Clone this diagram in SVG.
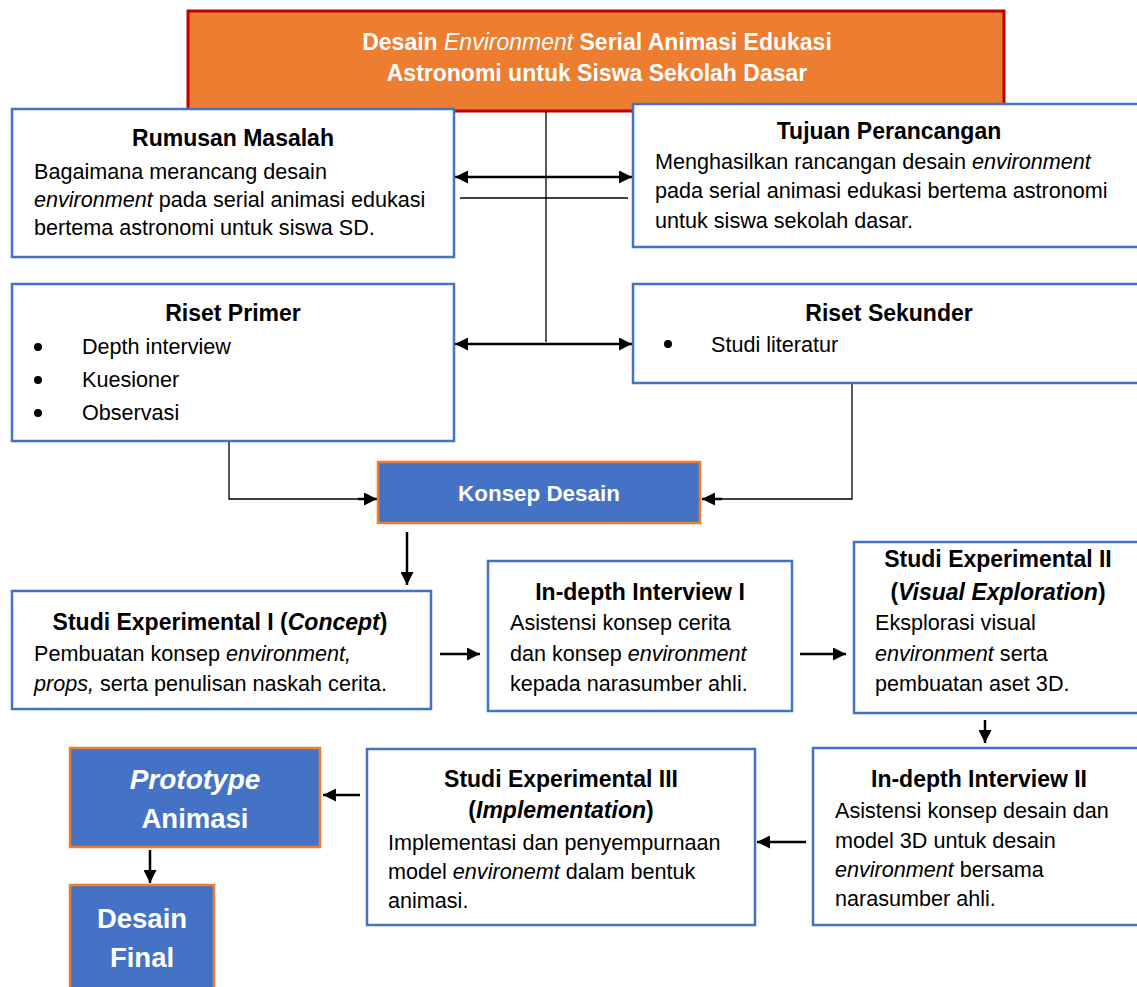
<svg xmlns="http://www.w3.org/2000/svg" width="1137" height="987" viewBox="0 0 1137 987">
<style>
text{font-family:"Liberation Sans",Arial,sans-serif;fill:#000}
.t{font-size:23px;font-weight:bold}
.b{font-size:21.6px}
.w{fill:#fff;font-weight:bold}
.c{text-anchor:middle}
.box{fill:#fff;stroke:#4472C4;stroke-width:2.5}
.fb{fill:#4472C4;stroke:#ED7D31;stroke-width:2.5}
.thin{stroke:#000;stroke-width:1.3;fill:none}
.arr{stroke:#000;stroke-width:2.5;fill:none}
</style>
<defs>
<marker id="ah" viewBox="0 0 10 10" refX="10" refY="5" markerWidth="13" markerHeight="13" markerUnits="userSpaceOnUse" orient="auto-start-reverse">
<path d="M0,0 L10,5 L0,10 z" fill="#000"/>
</marker>
</defs>
<g id="title">
<rect x="188" y="11" width="816" height="100" fill="#ED7D31" stroke="#C00000" stroke-width="3"/>
<text class="c w" x="597" y="50" font-size="23">Desain <tspan font-style="italic" style="font-weight:normal">Environment</tspan> Serial Animasi Edukasi</text>
<text class="c w" x="597" y="81" font-size="23">Astronomi untuk Siswa Sekolah Dasar</text>
</g>
<g id="connectors">
<line class="thin" x1="546" y1="112" x2="546" y2="342"/>
<line class="thin" x1="460" y1="198" x2="628" y2="198"/>
<line class="arr" x1="455" y1="177" x2="632" y2="177" marker-start="url(#ah)" marker-end="url(#ah)"/>
<line class="arr" x1="455" y1="344" x2="632" y2="344" marker-start="url(#ah)" marker-end="url(#ah)"/>
<polyline class="thin" points="229,442 229,499 360,499"/>
<line class="arr" x1="358" y1="499" x2="377" y2="499" marker-end="url(#ah)"/>
<polyline class="thin" points="852,384 852,499 720,499"/>
<line class="arr" x1="722" y1="499" x2="702" y2="499" marker-end="url(#ah)"/>
<line class="arr" x1="407" y1="532" x2="407" y2="585" marker-end="url(#ah)"/>
<line class="arr" x1="440" y1="654" x2="480" y2="654" marker-end="url(#ah)"/>
<line class="arr" x1="800" y1="654" x2="846" y2="654" marker-end="url(#ah)"/>
<line class="arr" x1="985" y1="720" x2="985" y2="743" marker-end="url(#ah)"/>
<line class="arr" x1="806" y1="842" x2="757" y2="842" marker-end="url(#ah)"/>
<line class="arr" x1="360" y1="795" x2="323" y2="795" marker-end="url(#ah)"/>
<line class="arr" x1="150" y1="850" x2="150" y2="883" marker-end="url(#ah)"/>
</g>
<g id="rumusan">
<rect class="box" x="12" y="109" width="442" height="148"/>
<text class="t c" x="233" y="146">Rumusan Masalah</text>
<text class="b" x="34" y="179">Bagaimana merancang desain</text>
<text class="b" x="34" y="207"><tspan font-style="italic">environment</tspan> pada serial animasi edukasi</text>
<text class="b" x="34" y="235">bertema astronomi untuk siswa SD.</text>
</g>
<g id="tujuan">
<rect class="box" x="633" y="104" width="510" height="143"/>
<text class="t c" x="889" y="139">Tujuan Perancangan</text>
<text class="b" x="655" y="169">Menghasilkan rancangan desain <tspan font-style="italic">environment</tspan></text>
<text class="b" x="655" y="198">pada serial animasi edukasi bertema astronomi</text>
<text class="b" x="655" y="228">untuk siswa sekolah dasar.</text>
</g>
<g id="riset-primer">
<rect class="box" x="12" y="284" width="442" height="157"/>
<text class="t c" x="233" y="321">Riset Primer</text>
<circle cx="38" cy="347" r="4"/><circle cx="38" cy="380" r="4"/><circle cx="38" cy="413" r="4"/>
<text class="b" x="82" y="354">Depth interview</text>
<text class="b" x="82" y="387">Kuesioner</text>
<text class="b" x="82" y="420">Observasi</text>
</g>
<g id="riset-sekunder">
<rect class="box" x="633" y="284" width="510" height="99"/>
<text class="t c" x="889" y="321">Riset Sekunder</text>
<circle cx="668" cy="344" r="4"/>
<text class="b" x="711" y="352">Studi literatur</text>
</g>
<g id="konsep">
<rect class="fb" x="378" y="462" width="322" height="61"/>
<text class="c w" x="539" y="501" font-size="22.4">Konsep Desain</text>
</g>
<g id="studi1">
<rect class="box" x="12" y="591" width="419" height="118"/>
<text class="t c" x="220" y="630">Studi Experimental I (<tspan font-style="italic">Concept</tspan>)</text>
<text class="b" x="34" y="661">Pembuatan konsep <tspan font-style="italic">environment,</tspan></text>
<text class="b" x="34" y="691"><tspan font-style="italic">props,</tspan> serta penulisan naskah cerita.</text>
</g>
<g id="interview1">
<rect class="box" x="488" y="561" width="304" height="150"/>
<text class="t c" x="640" y="600">In-depth Interview I</text>
<text class="b" x="510" y="630">Asistensi konsep cerita</text>
<text class="b" x="510" y="661">dan konsep <tspan font-style="italic">environment</tspan></text>
<text class="b" x="510" y="691">kepada narasumber ahli.</text>
</g>
<g id="studi2">
<rect class="box" x="854" y="542" width="290" height="171"/>
<text class="t c" x="998" y="567">Studi Experimental II</text>
<text class="t c" x="998" y="600">(<tspan font-style="italic">Visual Exploration</tspan>)</text>
<text class="b" x="875" y="630">Eksplorasi visual</text>
<text class="b" x="875" y="661"><tspan font-style="italic">environment</tspan> serta</text>
<text class="b" x="875" y="691">pembuatan aset 3D.</text>
</g>
<g id="interview2">
<rect class="box" x="813" y="748" width="330" height="177"/>
<text class="t c" x="979" y="787">In-depth Interview II</text>
<text class="b" x="835" y="818">Asistensi konsep desain dan</text>
<text class="b" x="835" y="848">model 3D untuk desain</text>
<text class="b" x="835" y="877"><tspan font-style="italic">environment</tspan> bersama</text>
<text class="b" x="835" y="906">narasumber ahli.</text>
</g>
<g id="studi3">
<rect class="box" x="367" y="749" width="388" height="176"/>
<text class="t c" x="561" y="787">Studi Experimental III</text>
<text class="t c" x="561" y="818">(<tspan font-style="italic">Implementation</tspan>)</text>
<text class="b" x="388" y="850">Implementasi dan penyempurnaan</text>
<text class="b" x="388" y="879">model <tspan font-style="italic">environemt</tspan> dalam bentuk</text>
<text class="b" x="388" y="908">animasi.</text>
</g>
<g id="prototype">
<rect class="fb" x="70" y="748" width="250" height="99"/>
<text class="c w" x="195" y="789" font-size="28" font-style="italic">Prototype</text>
<text class="c w" x="195" y="828" font-size="27.5">Animasi</text>
</g>
<g id="final">
<rect class="fb" x="70" y="885" width="144" height="110"/>
<text class="c w" x="142" y="928" font-size="27.5">Desain</text>
<text class="c w" x="142" y="967" font-size="27.5">Final</text>
</g>
</svg>
